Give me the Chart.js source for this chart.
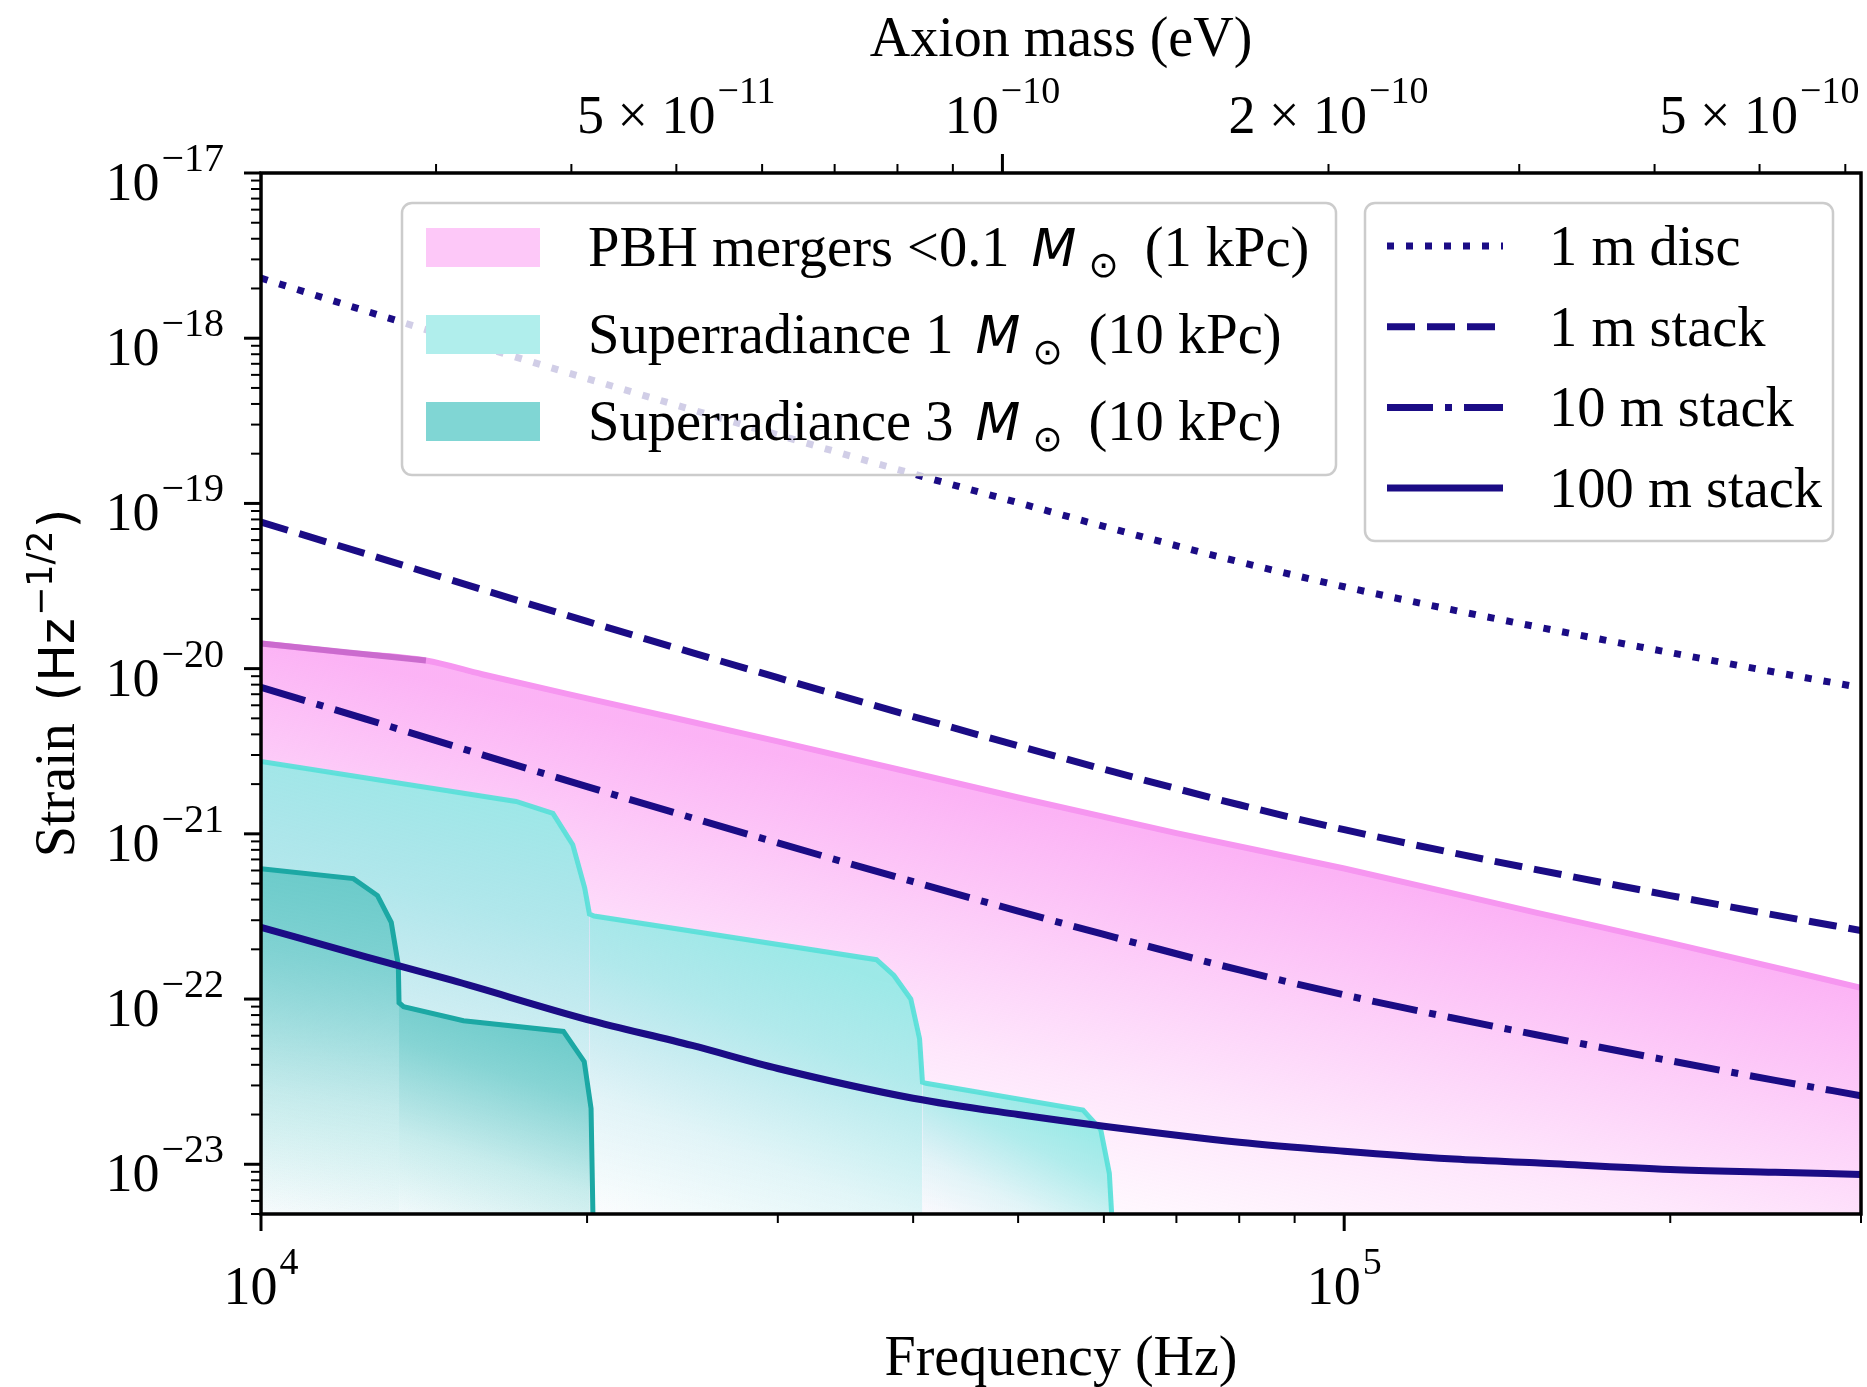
<!DOCTYPE html>
<html>
<head>
<meta charset="utf-8">
<title>Strain sensitivity vs frequency</title>
<script src="https://cdn.jsdelivr.net/npm/chart.js@4.4.1/dist/chart.umd.min.js"></script>
<style>
  html, body { margin: 0; padding: 0; background: #fff; }
  canvas { display: block; }
</style>
</head>
<body>
<canvas id="strain-chart" width="1867" height="1387"></canvas>
<script>
// ---- values ----

// detector sensitivity curves (Hz, strain Hz^-1/2)
var sensFreq   = [1e4, 1.25e4, 1.5e4, 2e4, 2.5e4, 3e4, 4e4, 5e4, 6e4, 8e4, 1e5, 1.25e5, 1.5e5, 2e5, 2.5e5, 3e5];
var disc1m     = [2.31e-18, 1.46e-18, 1.01e-18, 5.70e-19, 3.69e-19, 2.60e-19, 1.51e-19, 1.01e-19, 7.26e-20, 4.43e-20, 3.13e-20, 2.29e-20, 1.80e-20, 1.25e-20, 9.51e-21, 7.67e-21];
var stack1m    = [7.7e-20, 4.95e-20, 3.43e-20, 1.93e-20, 1.25e-20, 8.81e-21, 5.13e-21, 3.41e-21, 2.46e-21, 1.50e-21, 1.06e-21, 7.76e-22, 6.10e-22, 4.23e-22, 3.22e-22, 2.60e-22];
var stack10m   = [7.7e-21, 4.95e-21, 3.43e-21, 1.93e-21, 1.25e-21, 8.81e-22, 5.13e-22, 3.41e-22, 2.46e-22, 1.50e-22, 1.06e-22, 7.76e-23, 6.10e-23, 4.23e-23, 3.22e-23, 2.60e-23];
var stack100m  = [2.72e-22, 1.80e-22, 1.30e-22, 7.52e-23, 5.24e-23, 3.80e-23, 2.51e-23, 2.0e-23, 1.70e-23, 1.36e-23, 1.20e-23, 1.08e-23, 1.02e-23, 9.3e-24, 8.95e-24, 8.67e-24];

// PBH mergers band, upper edge
var pbhFreq    = [1e4, 1.2e4, 1.42e4, 1.6e4, 2e4, 3e4, 5e4, 7e4, 1e5, 1.5e5, 2e5, 3e5];
var pbhUpper   = [1.42e-20, 1.25e-20, 1.12e-20, 9.25e-21, 6.61e-21, 3.63e-21, 1.66e-21, 1.01e-21, 6.17e-22, 3.35e-22, 2.19e-22, 1.17e-22];
var pbhKinkFreq   = [1e4, 1.42e4];
var pbhKinkStrain = [1.42e-20, 1.12e-20];

// superradiance 1 Msun, upper edge (steps)
var sr1Freq    = [1e4, 1.72e4, 1.86e4, 1.94e4, 1.99e4, 2.01e4, 2.03e4, 3.70e4, 3.84e4, 3.98e4, 4.055e4, 4.08e4, 4.11e4, 5.74e4, 5.96e4, 6.07e4, 6.10e4];
var sr1Strain  = [2.74e-21, 1.57e-21, 1.33e-21, 8.6e-22, 4.7e-22, 3.27e-22, 3.18e-22, 1.73e-22, 1.39e-22, 1.0e-22, 5.75e-23, 3.14e-23, 3.09e-23, 2.13e-23, 1.62e-23, 8.8e-24, 5.0e-24];
var sr1Shelves = [[0, 5], [5, 11], [11, 16]];

// superradiance 3 Msun
var sr3Freq    = [1e4, 1.217e4, 1.281e4, 1.319e4, 1.339e4, 1.341e4, 1.354e4, 1.538e4, 1.902e4, 1.988e4, 2.017e4, 2.025e4];
var sr3Strain  = [6.15e-22, 5.36e-22, 4.23e-22, 2.91e-22, 1.60e-22, 9.5e-23, 9.0e-23, 7.4e-23, 6.37e-23, 4.18e-23, 2.18e-23, 5.0e-24];
var sr3Shelves = [[0, 5], [5, 11]];

// axes
var freqMin = 1e4, freqMax = 3e5;
var strainMin = 5e-24, strainMax = 1e-17;
var yTickValues = [1e-23, 1e-22, 1e-21, 1e-20, 1e-19, 1e-18, 1e-17];
var yTickExps   = ['\u221223', '\u221222', '\u221221', '\u221220', '\u221219', '\u221218', '\u221217'];
var xTickValues = [1e4, 1e5];
var xTickExps   = ['4', '5'];
var xMinorTicks = [2e4, 3e4, 4e4, 5e4, 6e4, 7e4, 8e4, 9e4, 2e5, 3e5];

// top axis: axion mass m = h f / 2
var hPlanck = 4.135667e-15; // eV s
var axionMajorTicks = [1e-10];
var axionMinorTicks = [3e-11, 4e-11, 5e-11, 6e-11, 7e-11, 8e-11, 9e-11, 2e-10, 3e-10, 4e-10, 5e-10, 6e-10];
var axionLabelValues = [5e-11, 1e-10, 2e-10, 5e-10];
var axionLabelPrefix = ['5 \u00d7 10', '10', '2 \u00d7 10', '5 \u00d7 10'];
var axionLabelExps   = ['\u221211', '\u221210', '\u221210', '\u221210'];

// ---- styling ----
var SERIF = '"Liberation Serif", "Times New Roman", serif';
var SANS = '"DejaVu Sans", sans-serif';
var NAVY = '#1b0c85';
var PINK = '250,140,240';
var CYAN1 = '150,234,230';
var CYAN3 = '95,198,196';

function pts(xs, ys) {
  return xs.map(function(x, i) { return { x: x, y: ys[i] }; });
}

// fill fading towards the lower left of one step of a superradiance region
function shelfGradient(chart, xs, ys, color, top) {
  var area = chart.chartArea;
  if (!area) return 'rgba(' + color + ',0.5)';
  var sx = chart.scales.x, sy = chart.scales.y;
  var xL = sx.getPixelForValue(xs[0]);
  var xR = sx.getPixelForValue(xs[xs.length - 1]);
  var yT = sy.getPixelForValue(Math.max.apply(null, ys));
  var g = chart.ctx.createLinearGradient(xL, area.bottom, xL + (xR - xL) * 0.35, yT);
  g.addColorStop(0, 'rgba(' + color + ',0.03)');
  g.addColorStop(0.35, 'rgba(' + color + ',' + (top * 0.3) + ')');
  g.addColorStop(0.75, 'rgba(' + color + ',' + (top * 0.8) + ')');
  g.addColorStop(1, 'rgba(' + color + ',' + top + ')');
  return g;
}

// pink band fades away from its upper edge
function bandGradient(chart) {
  var area = chart.chartArea;
  if (!area) return 'rgba(' + PINK + ',0.3)';
  var sx = chart.scales.x, sy = chart.scales.y;
  var n = pbhFreq.length - 1;
  var x0 = sx.getPixelForValue(pbhFreq[0]), y0 = sy.getPixelForValue(pbhUpper[0]);
  var x1 = sx.getPixelForValue(pbhFreq[n]), y1 = sy.getPixelForValue(pbhUpper[n]);
  var dx = x1 - x0, dy = y1 - y0, len = Math.sqrt(dx * dx + dy * dy);
  var nx = -dy / len, ny = dx / len, L = 460;
  var g = chart.ctx.createLinearGradient(x0, y0, x0 + nx * L, y0 + ny * L);
  g.addColorStop(0, 'rgba(' + PINK + ',0.66)');
  g.addColorStop(0.25, 'rgba(' + PINK + ',0.45)');
  g.addColorStop(0.55, 'rgba(' + PINK + ',0.21)');
  g.addColorStop(0.8, 'rgba(' + PINK + ',0.07)');
  g.addColorStop(1, 'rgba(' + PINK + ',0.02)');
  return g;
}

function shelfDatasets(xs, ys, shelves, color, top, order) {
  return shelves.map(function(r) {
    var fx = xs.slice(r[0], r[1] + 1), fy = ys.slice(r[0], r[1] + 1);
    return {
      data: pts(fx, fy),
      borderWidth: 0,
      fill: 'start',
      order: order,
      backgroundColor: function(ctx) { return shelfGradient(ctx.chart, fx, fy, color, top); }
    };
  });
}

function lineDataset(ys, dash, order) {
  return {
    data: pts(sensFreq, ys),
    borderColor: NAVY,
    borderWidth: 7,
    borderDash: dash,
    borderCapStyle: 'butt',
    cubicInterpolationMode: 'monotone',
    fill: false,
    order: order
  };
}

var datasets = [
  lineDataset(disc1m, [7, 12], 0),
  lineDataset(stack1m, [28, 12], 0),
  lineDataset(stack10m, [46, 12, 7, 12], 0),
  lineDataset(stack100m, [], 0),
  { data: pts(sr3Freq, sr3Strain), borderColor: 'rgb(28,168,164)', borderWidth: 5, fill: false, order: 1 }
].concat(shelfDatasets(sr3Freq, sr3Strain, sr3Shelves, CYAN3, 0.85, 2))
 .concat([{ data: pts(sr1Freq, sr1Strain), borderColor: 'rgba(85,224,216,0.9)', borderWidth: 5, fill: false, order: 3 }])
 .concat(shelfDatasets(sr1Freq, sr1Strain, sr1Shelves, CYAN1, 0.93, 4))
 .concat([
  { data: pts(pbhKinkFreq, pbhKinkStrain), borderColor: 'rgba(195,100,200,0.85)', borderWidth: 6, fill: false, order: 5 },
  { data: pts(pbhFreq, pbhUpper), borderColor: 'rgb(246,150,240)', borderWidth: 6,
    cubicInterpolationMode: 'monotone', fill: 'start', order: 6,
    backgroundColor: function(ctx) { return bandGradient(ctx.chart); } }
 ]);

// ---- text helpers ----
function powLabel(ctx, x, y, prefix, exp, align, baseSize, supSize, raise) {
  ctx.font = baseSize + 'px ' + SERIF;
  var wb = ctx.measureText(prefix).width;
  ctx.font = supSize + 'px ' + SERIF;
  var we = ctx.measureText(exp).width;
  var total = wb + we + 2;
  var x0 = align === 'right' ? x - total : x - total / 2;
  ctx.textAlign = 'left';
  ctx.textBaseline = 'alphabetic';
  ctx.font = baseSize + 'px ' + SERIF;
  ctx.fillText(prefix, x0, y);
  ctx.font = supSize + 'px ' + SERIF;
  ctx.fillText(exp, x0 + wb + 2, y - raise);
}

// draws a row of text pieces left to right
function drawPieces(ctx, x, y, pieces) {
  ctx.textAlign = 'left';
  ctx.textBaseline = 'alphabetic';
  pieces.forEach(function(p) {
    x += p.gap || 0;
    ctx.font = p.font;
    ctx.fillText(p.t, x, y + (p.dy || 0));
    x += ctx.measureText(p.t).width;
  });
}

function roundBox(ctx, x, y, w, h, r) {
  ctx.beginPath();
  ctx.moveTo(x + r, y);
  ctx.arcTo(x + w, y, x + w, y + h, r);
  ctx.arcTo(x + w, y + h, x, y + h, r);
  ctx.arcTo(x, y + h, x, y, r);
  ctx.arcTo(x, y, x + w, y, r);
  ctx.closePath();
  ctx.fillStyle = 'rgba(255,255,255,0.8)';
  ctx.fill();
  ctx.lineWidth = 2.5;
  ctx.strokeStyle = 'rgba(204,204,204,1)';
  ctx.stroke();
}

var LEG = 56.5;
function msun(pre, post) {
  return [
    { t: pre, font: LEG + 'px ' + SERIF },
    { t: 'M', font: 'italic 52px ' + SANS, gap: 22 },
    { t: '\u2299', font: '36px ' + SANS, gap: 12, dy: 11 },
    { t: post, font: LEG + 'px ' + SERIF, gap: 26 }
  ];
}

var bandLegend = [
  { fill: 'rgb(253,200,248)', pieces: msun('PBH mergers <0.1', '(1 kPc)') },
  { fill: 'rgb(176,238,236)', pieces: msun('Superradiance 1', '(10 kPc)') },
  { fill: 'rgb(128,214,212)', pieces: msun('Superradiance 3', '(10 kPc)') }
];
var lineLegend = [
  { label: '1 m disc', dash: [7, 12] },
  { label: '1 m stack', dash: [28, 12] },
  { label: '10 m stack', dash: [46, 12, 7, 12] },
  { label: '100 m stack', dash: [] }
];

var figurePlugin = {
  id: 'figurePlugin',
  afterDatasetsDraw: function(chart) {
    var ctx = chart.ctx;
    ctx.save();
    // band legend
    roundBox(ctx, 402, 203, 934, 272, 10);
    bandLegend.forEach(function(it, i) {
      var y = 228 + i * 87;
      ctx.fillStyle = it.fill;
      ctx.fillRect(426, y, 114, 39);
      ctx.fillStyle = '#000';
      drawPieces(ctx, 588, y + 38, it.pieces);
    });
    // line legend
    roundBox(ctx, 1365, 203, 468, 338, 10);
    lineLegend.forEach(function(it, i) {
      var y = 246 + i * 80.7;
      ctx.strokeStyle = NAVY;
      ctx.lineWidth = 7;
      ctx.lineCap = 'butt';
      ctx.setLineDash(it.dash);
      ctx.beginPath();
      ctx.moveTo(1387, y);
      ctx.lineTo(1503, y);
      ctx.stroke();
      ctx.setLineDash([]);
      ctx.fillStyle = '#000';
      ctx.font = LEG + 'px ' + SERIF;
      ctx.textAlign = 'left';
      ctx.textBaseline = 'alphabetic';
      ctx.fillText(it.label, 1549, y + 19);
    });
    ctx.restore();
  },
  afterDraw: function(chart) {
    var ctx = chart.ctx, a = chart.chartArea;
    var sx = chart.scales.x, sy = chart.scales.y, st = chart.scales.x2;
    ctx.save();
    ctx.strokeStyle = '#000';
    ctx.fillStyle = '#000';
    ctx.lineWidth = 3.5;
    ctx.strokeRect(a.left, a.top, a.right - a.left, a.bottom - a.top);

    function tick(x1, y1, x2, y2, w) {
      ctx.lineWidth = w;
      ctx.beginPath();
      ctx.moveTo(x1, y1);
      ctx.lineTo(x2, y2);
      ctx.stroke();
    }
    // left axis
    for (var e = -24; e <= -18; e++) {
      for (var m = 2; m <= 9; m++) {
        var v = m * Math.pow(10, e);
        if (v < strainMin || v > strainMax) continue;
        var py = sy.getPixelForValue(v);
        tick(a.left, py, a.left - 10, py, 2);
      }
    }
    yTickValues.forEach(function(v, i) {
      var py = sy.getPixelForValue(v);
      tick(a.left, py, a.left - 17, py, 3);
      powLabel(ctx, 224, py + 27, '10', yTickExps[i], 'right', 54, 40, 29);
    });
    // bottom axis
    xMinorTicks.forEach(function(v) {
      var px = sx.getPixelForValue(v);
      tick(px, a.bottom, px, a.bottom + 9, 2);
    });
    xTickValues.forEach(function(v, i) {
      var px = sx.getPixelForValue(v);
      tick(px, a.bottom, px, a.bottom + 17, 3);
      powLabel(ctx, px, 1304, '10', xTickExps[i], 'center', 54, 38, 30);
    });
    // top axis (axion mass)
    axionMinorTicks.forEach(function(v) {
      var px = st.getPixelForValue(v);
      tick(px, a.top, px, a.top - 9, 2);
    });
    axionMajorTicks.forEach(function(v) {
      var px = st.getPixelForValue(v);
      tick(px, a.top, px, a.top - 19, 3);
    });
    axionLabelValues.forEach(function(v, i) {
      var px = st.getPixelForValue(v);
      powLabel(ctx, px, 133, axionLabelPrefix[i], axionLabelExps[i], 'center', 54, 38, 30);
    });

    // axis titles
    ctx.textAlign = 'center';
    ctx.textBaseline = 'alphabetic';
    ctx.font = '56px ' + SERIF;
    ctx.fillText('Axion mass (eV)', (a.left + a.right) / 2, 56);
    ctx.fillText('Frequency (Hz)', (a.left + a.right) / 2, 1375);

    ctx.translate(74, 683);
    ctx.rotate(-Math.PI / 2);
    var parts = [
      { t: 'Strain', font: '56px ' + SERIF, dy: 0, gap: 0 },
      { t: '(Hz', font: '50px ' + SANS, dy: 0, gap: 22 },
      { t: '\u22121/2', font: '35px ' + SANS, dy: -22, gap: 2 },
      { t: ')', font: '50px ' + SANS, dy: 0, gap: 2 }
    ];
    var total = 0;
    parts.forEach(function(p) { ctx.font = p.font; total += p.gap + ctx.measureText(p.t).width; });
    drawPieces(ctx, -total / 2, 0, parts);
    ctx.restore();
  }
};

var strainChart = new Chart(document.getElementById('strain-chart'), {
  type: 'line',
  data: { datasets: datasets },
  options: {
    responsive: false,
    animation: false,
    devicePixelRatio: 1,
    layout: { padding: { left: 261, right: 6, top: 173, bottom: 173 } },
    plugins: { legend: { display: false }, tooltip: { enabled: false } },
    elements: { point: { radius: 0 }, line: { tension: 0 } },
    scales: {
      x: { type: 'logarithmic', min: freqMin, max: freqMax, display: false },
      x2: { type: 'logarithmic', axis: 'x', position: 'top', display: false,
            min: freqMin * hPlanck / 2, max: freqMax * hPlanck / 2 },
      y: { type: 'logarithmic', min: strainMin, max: strainMax, display: false }
    }
  },
  plugins: [figurePlugin]
});
</script>
</body>
</html>
